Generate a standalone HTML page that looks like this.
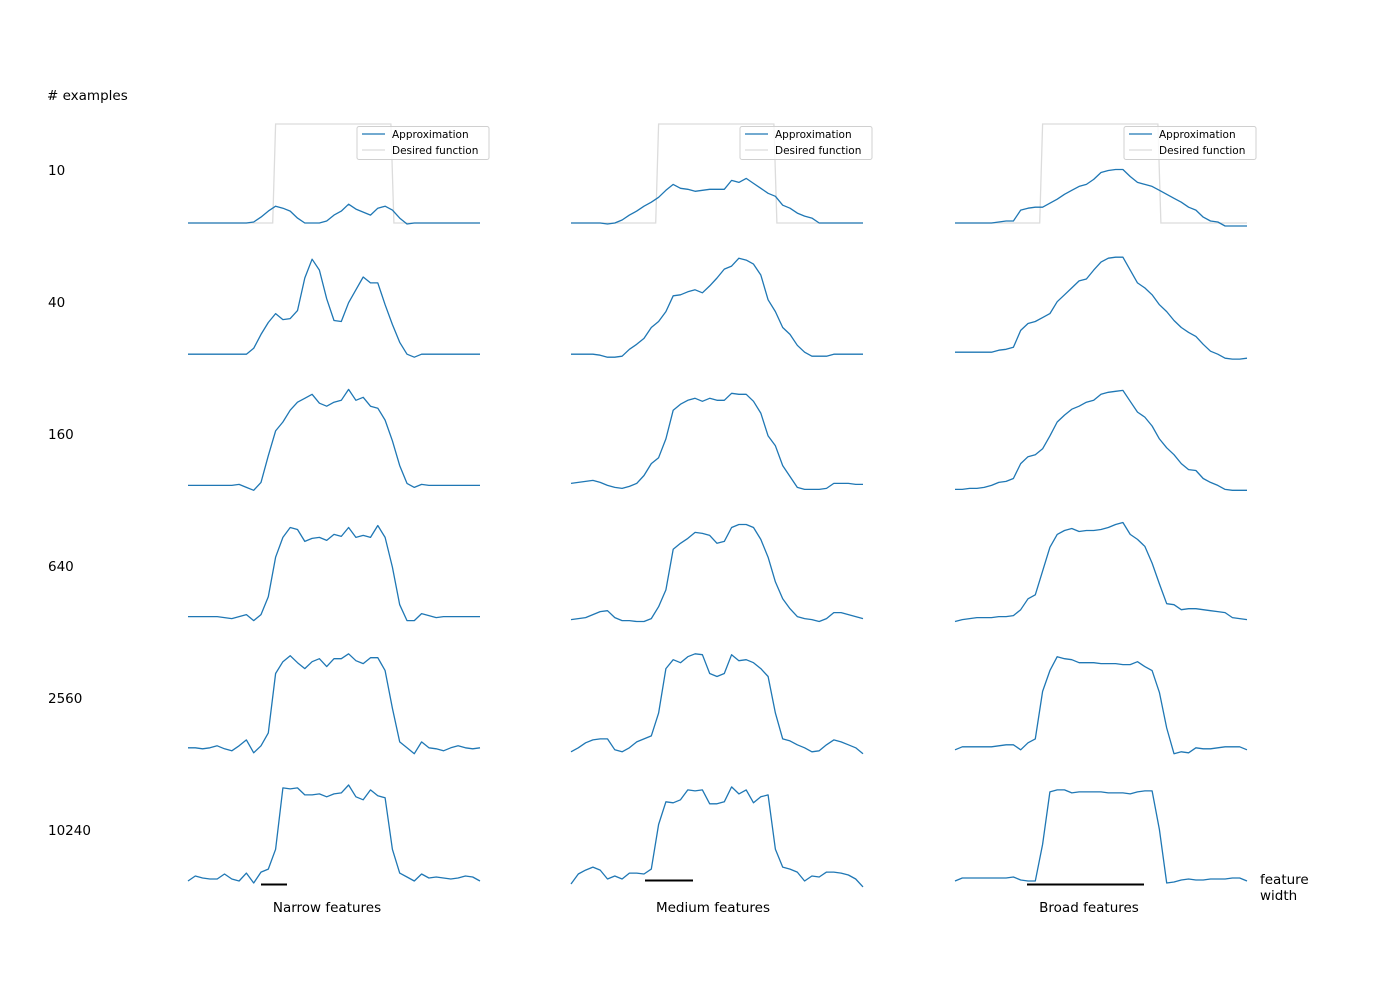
<!DOCTYPE html>
<html><head><meta charset="utf-8"><style>
html,body{margin:0;padding:0;background:#fff;}
svg{display:block;font-family:"DejaVu Sans","Liberation Sans",sans-serif;}
</style></head><body>
<svg id="chart" width="1400" height="1000" viewBox="0 0 1400 1000" xmlns="http://www.w3.org/2000/svg">
<rect x="0" y="0" width="1400" height="1000" fill="#fff"/>
<text x="47" y="100" font-size="13.5" fill="#000"># examples</text>
<g id="rowlabels"></g>
<g id="panels"></g>
<text x="327" y="912" font-size="13.5" text-anchor="middle">Narrow features</text>
<text x="713" y="912" font-size="13.5" text-anchor="middle">Medium features</text>
<text x="1089" y="912" font-size="13.5" text-anchor="middle">Broad features</text>
<text x="1260" y="884" font-size="13.5"><tspan x="1260" y="884">feature</tspan><tspan x="1260" y="900">width</tspan></text>
<line x1="261" y1="884.5" x2="287" y2="884.5" stroke="#000" stroke-width="2"/>
<line x1="645" y1="880.5" x2="693" y2="880.5" stroke="#000" stroke-width="2"/>
<line x1="1027" y1="884.5" x2="1144" y2="884.5" stroke="#000" stroke-width="2"/>
</svg>
<script>
const exampleCounts = ["10","40","160","640","2560","10240"];
const columnNames = ["narrow","medium","broad"];
const desiredX = [0, 0.29, 0.30, 0.695, 0.705, 1];
const desiredY = [0, 0, 1, 1, 0, 0];

const narrow10 = [0,0,0,0,0,0,0,0,0,0.01,0.06,0.12,0.17,0.15,0.12,0.05,0,0,0,0.02,0.08,0.12,0.19,0.14,0.11,0.08,0.15,0.17,0.13,0.05,-0.01,0,0,0,0,0,0,0,0,0,0];
const narrow40 = [0,0,0,0,0,0,0,0,0,0.06,0.2,0.32,0.41,0.35,0.36,0.44,0.77,0.96,0.85,0.56,0.34,0.33,0.52,0.65,0.78,0.72,0.72,0.5,0.3,0.12,0,-0.03,0,0,0,0,0,0,0,0,0];
const narrow160 = [0,0,0,0,0,0,0,0.01,-0.02,-0.05,0.03,0.3,0.55,0.64,0.76,0.84,0.88,0.92,0.83,0.8,0.84,0.86,0.97,0.86,0.89,0.8,0.78,0.66,0.45,0.2,0.02,-0.02,0.01,0,0,0,0,0,0,0,0];
const narrow640 = [0,0,0,0,0,-0.01,-0.02,0,0.02,-0.04,0.02,0.2,0.6,0.8,0.9,0.88,0.76,0.79,0.8,0.77,0.83,0.81,0.9,0.8,0.82,0.8,0.92,0.8,0.5,0.12,-0.04,-0.04,0.03,0.01,-0.01,0,0,0,0,0,0];
const narrow2560 = [0,0,-0.01,0,0.02,-0.01,-0.03,0.02,0.08,-0.05,0.02,0.15,0.75,0.87,0.93,0.86,0.8,0.87,0.9,0.82,0.9,0.9,0.95,0.88,0.85,0.91,0.91,0.78,0.4,0.06,0,-0.06,0.06,0,-0.01,-0.03,0,0.02,0,-0.01,0];
const narrow10240 = [-0.02,0.03,0.01,0,0,0.05,0,-0.02,0.06,-0.04,0.07,0.1,0.3,0.92,0.91,0.92,0.85,0.85,0.86,0.83,0.86,0.87,0.95,0.83,0.8,0.9,0.84,0.82,0.3,0.06,0.02,-0.02,0.05,0.01,0.02,0.01,0,0.01,0.03,0.02,-0.02];

const medium10 = [0,0,0,0,0,-0.01,0,0.03,0.08,0.12,0.17,0.21,0.26,0.33,0.39,0.35,0.34,0.32,0.33,0.34,0.34,0.34,0.43,0.41,0.45,0.4,0.35,0.3,0.27,0.18,0.15,0.1,0.07,0.05,0,0,0,0,0,0,0];
const medium40 = [0,0,0,0,-0.01,-0.03,-0.03,-0.02,0.05,0.1,0.16,0.27,0.33,0.43,0.59,0.6,0.63,0.65,0.62,0.69,0.77,0.86,0.89,0.97,0.95,0.91,0.8,0.55,0.43,0.27,0.2,0.09,0.02,-0.02,-0.02,-0.02,0,0,0,0,0];
const medium160 = [0.02,0.03,0.04,0.05,0.03,0,-0.02,-0.03,-0.01,0.02,0.1,0.22,0.28,0.47,0.76,0.82,0.86,0.88,0.85,0.88,0.86,0.86,0.93,0.92,0.92,0.85,0.73,0.5,0.4,0.2,0.09,-0.02,-0.04,-0.04,-0.04,-0.03,0.02,0.02,0.02,0.01,0.01];
const medium640 = [-0.03,-0.02,-0.01,0.02,0.05,0.06,-0.01,-0.04,-0.04,-0.05,-0.05,-0.02,0.1,0.27,0.68,0.74,0.79,0.85,0.84,0.82,0.74,0.76,0.9,0.93,0.93,0.9,0.78,0.6,0.35,0.18,0.08,0,-0.02,-0.03,-0.05,-0.02,0.04,0.04,0.02,0,-0.02];
const medium2560 = [-0.04,0,0.05,0.08,0.09,0.09,-0.02,-0.04,0,0.06,0.09,0.12,0.35,0.8,0.89,0.86,0.92,0.95,0.94,0.75,0.72,0.75,0.94,0.88,0.89,0.86,0.8,0.72,0.35,0.09,0.07,0.03,0,-0.04,-0.03,0.03,0.08,0.06,0.03,0,-0.06];
const medium10240 = [-0.05,0.05,0.09,0.12,0.09,0,0.03,0,0.06,0.06,0.05,0.1,0.55,0.78,0.77,0.8,0.9,0.89,0.9,0.76,0.76,0.78,0.93,0.86,0.9,0.77,0.83,0.85,0.3,0.12,0.1,0.07,-0.02,0.03,0.02,0.07,0.07,0.06,0.04,0,-0.08];

const broad10 = [0,0,0,0,0,0,0.01,0.02,0.02,0.13,0.15,0.16,0.16,0.2,0.24,0.29,0.33,0.37,0.39,0.44,0.51,0.53,0.54,0.54,0.47,0.41,0.39,0.37,0.33,0.29,0.25,0.21,0.16,0.13,0.06,0.02,0.01,-0.03,-0.03,-0.03,-0.03];
const broad40 = [0.02,0.02,0.02,0.02,0.02,0.02,0.04,0.05,0.07,0.24,0.31,0.33,0.37,0.41,0.53,0.6,0.67,0.74,0.76,0.85,0.93,0.97,0.98,0.98,0.85,0.72,0.67,0.6,0.5,0.43,0.34,0.27,0.22,0.18,0.1,0.03,0,-0.04,-0.05,-0.05,-0.04];
const broad160 = [-0.04,-0.04,-0.03,-0.03,-0.02,0,0.03,0.04,0.07,0.22,0.29,0.31,0.37,0.5,0.64,0.71,0.77,0.8,0.84,0.86,0.92,0.94,0.95,0.96,0.85,0.74,0.69,0.6,0.47,0.38,0.31,0.22,0.16,0.15,0.07,0.03,0,-0.04,-0.05,-0.05,-0.05];
const broad640 = [-0.05,-0.03,-0.02,-0.01,-0.01,-0.01,0,0,0.01,0.07,0.18,0.22,0.46,0.7,0.83,0.87,0.89,0.86,0.87,0.87,0.88,0.9,0.93,0.95,0.83,0.78,0.71,0.54,0.33,0.13,0.12,0.07,0.08,0.08,0.07,0.06,0.05,0.04,-0.01,-0.02,-0.03];
const broad2560 = [-0.02,0.01,0.01,0.01,0.01,0.01,0.02,0.03,0.03,-0.02,0.05,0.09,0.57,0.78,0.92,0.9,0.89,0.86,0.86,0.86,0.85,0.85,0.85,0.84,0.84,0.87,0.82,0.78,0.56,0.2,-0.06,-0.04,-0.05,0,-0.01,-0.01,0,0.01,0.01,0.01,-0.02];
const broad10240 = [-0.02,0.01,0.01,0.01,0.01,0.01,0.01,0.01,0.02,-0.01,-0.02,-0.02,0.35,0.88,0.9,0.9,0.87,0.88,0.88,0.88,0.88,0.87,0.87,0.87,0.86,0.88,0.89,0.89,0.5,-0.04,-0.03,-0.01,0,-0.01,-0.01,0,0,0,0.01,0.01,-0.02];

const seriesByColumn = [
  [narrow10, narrow40, narrow160, narrow640, narrow2560, narrow10240],
  [medium10, medium40, medium160, medium640, medium2560, medium10240],
  [broad10, broad40, broad160, broad640, broad2560, broad10240]
];

const NS = "http://www.w3.org/2000/svg";
const colLeft = [188, 571, 955];
const panelW = 292, panelH = 99;
function xScale(c, t){ return colLeft[c] + t * panelW; }
function yScale(r, v){ return 223 + 131.2 * r - v * panelH; }

const rowG = document.getElementById('rowlabels');
exampleCounts.forEach((lab, r) => {
  const t = document.createElementNS(NS, 'text');
  t.setAttribute('x', 48);
  t.setAttribute('y', 175 + 132 * r);
  t.setAttribute('font-size', '13.5');
  t.textContent = lab;
  
  
  rowG.appendChild(t);
});

const panelsG = document.getElementById('panels');
seriesByColumn.forEach((col, c) => {
  col.forEach((vals, r) => {
    const g = document.createElementNS(NS, 'g');
    
    
    if (r === 0) {
      const d = desiredX.map((x, i) => (i ? 'L' : 'M') + xScale(c, x).toFixed(1) + ',' + yScale(0, desiredY[i]).toFixed(1)).join(' ');
      const p = document.createElementNS(NS, 'path');
      p.setAttribute('d', d);
      p.setAttribute('fill', 'none');
      p.setAttribute('stroke', '#dcdcdc');
      p.setAttribute('stroke-width', '1.3');
      
      
      g.appendChild(p);
    }
    const n = vals.length;
    const d = vals.map((v, i) => (i ? 'L' : 'M') + xScale(c, i / (n - 1)).toFixed(1) + ',' + yScale(r, v).toFixed(1)).join(' ');
    const p = document.createElementNS(NS, 'path');
    p.setAttribute('d', d);
    p.setAttribute('fill', 'none');
    p.setAttribute('stroke', '#1f77b4');
    p.setAttribute('stroke-width', '1.3');
    p.setAttribute('stroke-linejoin', 'round');
    
    
    g.appendChild(p);
    if (r === 0) {
      const lx = colLeft[c] + 169;
      const lg = document.createElementNS(NS, 'g');
      
      
      lg.innerHTML =
        '<rect x="' + lx + '" y="126.5" width="132" height="33" rx="2" fill="#fff" fill-opacity="0.8" stroke="#d0d0d0" stroke-width="1"/>' +
        '<line x1="' + (lx + 5) + '" y1="134" x2="' + (lx + 28) + '" y2="134" stroke="#1f77b4" stroke-width="1.3"/>' +
        '<text x="' + (lx + 35) + '" y="138" font-size="10.5" fill="#000">Approximation</text>' +
        '<line x1="' + (lx + 5) + '" y1="150" x2="' + (lx + 28) + '" y2="150" stroke="#dcdcdc" stroke-width="1.3"/>' +
        '<text x="' + (lx + 35) + '" y="154" font-size="10.5" fill="#000">Desired function</text>';
      g.appendChild(lg);
    }
    panelsG.appendChild(g);
  });
});
</script>
</body></html>
